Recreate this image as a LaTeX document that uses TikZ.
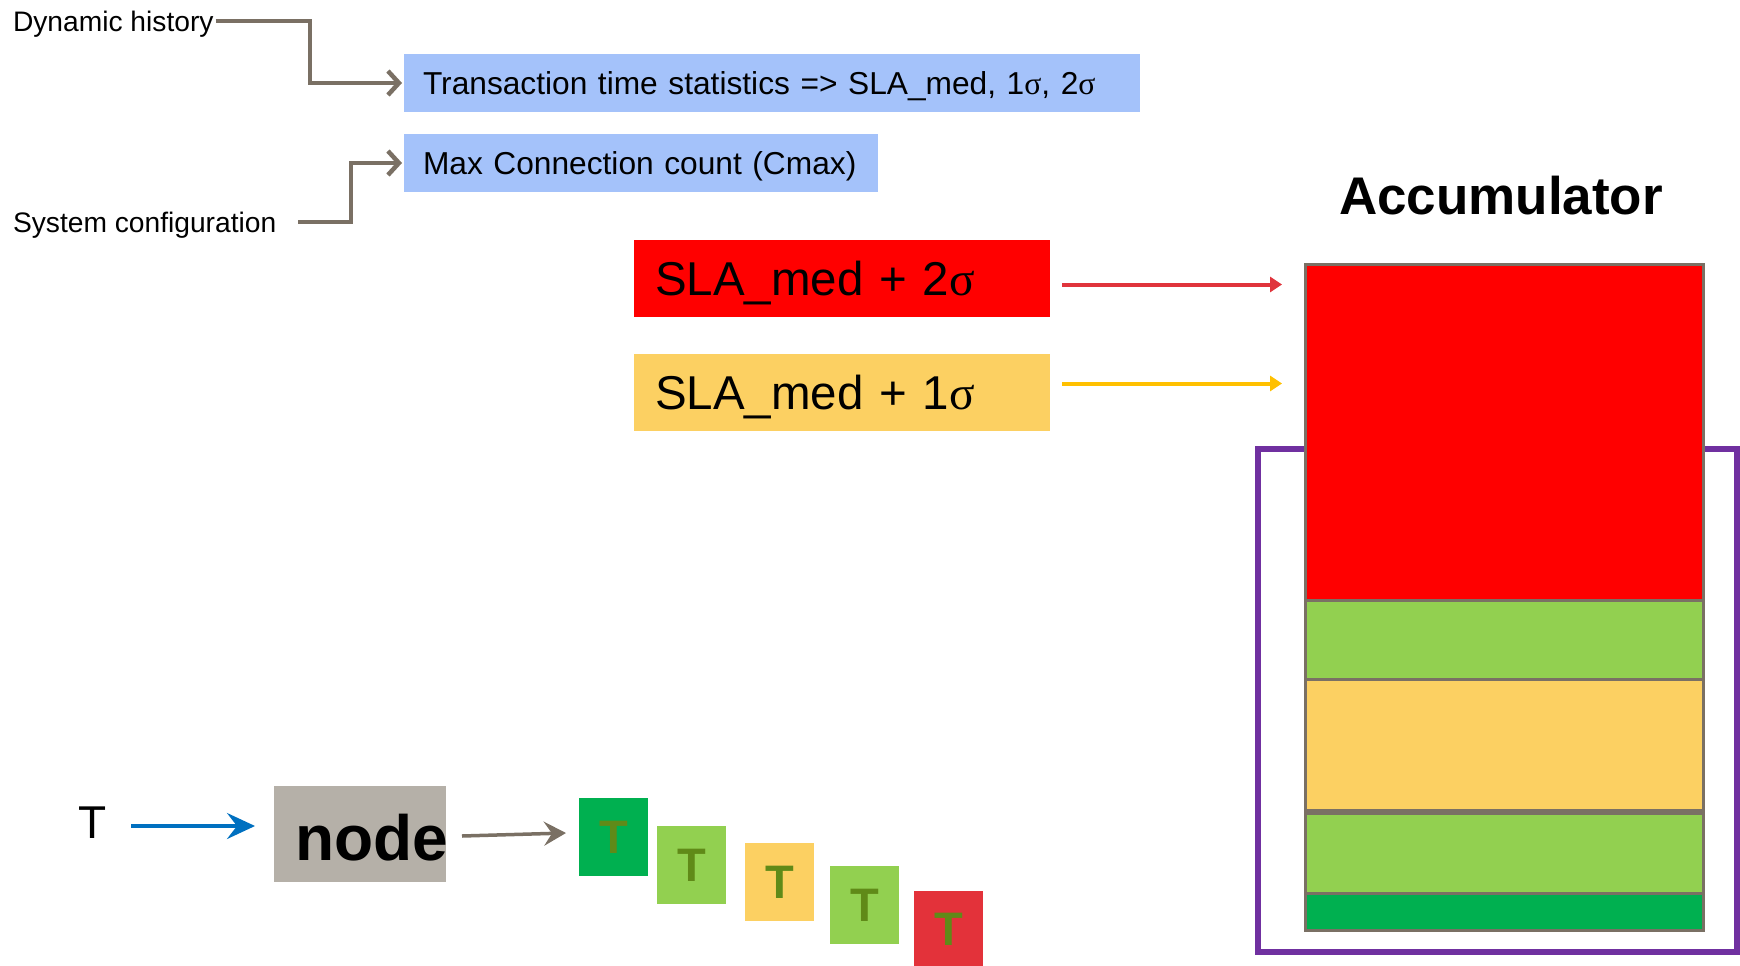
\documentclass[tikz,border=0pt]{standalone}
\usepackage{fontspec}
\setmainfont{Liberation Sans}
\newfontfamily\greekserif{Liberation Serif}
\usetikzlibrary{arrows.meta}

\definecolor{infoblue}{RGB}{164,194,250}
\definecolor{connector}{RGB}{122,112,100}
\definecolor{slared}{RGB}{255,0,0}
\definecolor{slayellow}{RGB}{252,208,98}
\definecolor{arrowred}{RGB}{224,52,60}
\definecolor{arrowyellow}{RGB}{255,192,0}
\definecolor{lightgreen}{RGB}{146,208,80}
\definecolor{darkgreen}{RGB}{0,176,80}
\definecolor{tred}{RGB}{227,50,58}
\definecolor{tolive}{RGB}{96,138,24}
\definecolor{nodegray}{RGB}{181,176,168}
\definecolor{flowblue}{RGB}{0,112,192}
\definecolor{framepurple}{RGB}{112,48,160}
\definecolor{stackedge}{RGB}{122,112,100}

\newcommand{\sig}{{\greekserif σ}}

\begin{document}
\begin{tikzpicture}[x=1pt,y=-1pt,
  every node/.style={outer sep=0pt},
  % font size (#1) and its cap height (#2), so that capitals sit centred
  fs/.style 2 args={font=\fontsize{#1}{#1}\selectfont, text height=#2pt, text depth=0pt},
  fsb/.style 2 args={font=\fontsize{#1}{#1}\selectfont\bfseries, text height=#2pt, text depth=0pt},
  plain/.style={inner sep=0pt},
  infobox/.style={fill=infoblue, anchor=north west, inner xsep=19pt, inner ysep=0pt,
    minimum height=58pt, align=left, fs={31.7}{22.7}},
  slabox/.style={anchor=north west, inner xsep=21pt, inner ysep=0pt,
    text width=374pt, minimum height=77pt, align=left, fs={47.5}{34}},
  conn/.style={draw=connector, line width=4.5pt,
    -{Straight Barb[length=11pt,width=24pt]}, shorten >=2pt},
  levelarrow/.style={line width=4pt, -{Triangle[length=12pt,width=15pt]}, shorten >=23pt},
  stackbox/.style={draw=stackedge, line width=3pt, anchor=north west, inner sep=0pt,
    minimum width=398pt},
  tbox/.style={anchor=north west, inner sep=0pt, minimum width=69pt, minimum height=78pt,
    text=tolive, fsb={47}{33.7}}]

\useasboundingbox (0,0) rectangle (1740,966);

% inputs to the statistics
\node[plain, fs={28.2}{20.2}, anchor=west] (dh) at (13,21) {Dynamic history};
\node[plain, fs={28.2}{20.2}, anchor=west] (sc) at (13,222) {System configuration};
\node[infobox, text width=698pt] (tts) at (404,54)
  {Transaction time statistics => SLA\_med, 1\sig, 2\sig};
\node[infobox, text width=436pt] (mcc) at (404,134) {Max Connection count (Cmax)};
\draw[conn] ([xshift=2pt]dh.east) -| ([xshift=-94pt]tts.west) -- (tts.west);
\draw[conn] ([xshift=22pt]sc.east) -| ([xshift=-53pt]mcc.west) -- (mcc.west);

% thresholds
\node[slabox, fill=slared] (sla2) at (634,240) {SLA\_med + 2\sig};
\node[slabox, fill=slayellow] (sla1) at (634,354) {SLA\_med + 1\sig};

% accumulator
\node[plain, fsb={53}{37.9}] (acctitle) at (1501,196) {Accumulator};
\node[draw=framepurple, line width=5.5pt, anchor=north west, inner sep=0pt,
  minimum width=479pt, minimum height=503pt] (frame) at (1258,449) {};
\node[stackbox, fill=slared, minimum height=336pt] (accred) at (1305,264) {};
\node[stackbox, fill=lightgreen, minimum height=79pt] (accg1) at (1305,600) {};
\node[stackbox, fill=slayellow, minimum height=131pt] (accy) at (1305,679) {};
\node[stackbox, fill=lightgreen, minimum height=80pt] (accg2) at (1305,813) {};
\node[stackbox, fill=darkgreen, minimum height=37pt] (accdg) at (1305,893) {};

\coordinate (r0) at ([shift={(12,6)}]sla2.east);
\coordinate (y0) at ([shift={(12,-9)}]sla1.east);
\draw[levelarrow, arrowred] (r0) -- (r0 -| accred.west);
\draw[levelarrow, arrowyellow] (y0) -- (y0 -| accred.west);

% transaction flow
\node[plain, fs={46}{32.9}, anchor=west] (tin) at (78,822) {T};
\node[fill=nodegray, anchor=north west, inner sep=0pt, minimum width=172pt,
  minimum height=96pt] (nd) at (274,786) {};
\node[font=\fontsize{64}{64}\selectfont\bfseries, anchor=base west, inner sep=0pt]
  (ndtext) at ([shift={(21,26)}]nd.west) {node};

\node[tbox, fill=darkgreen] (t1) at (579,798) {T};
\node[tbox, fill=lightgreen] (t2) at (657,826) {T};
\node[tbox, fill=slayellow] (t3) at (745,843) {T};
\node[tbox, fill=lightgreen] (t4) at (830,866) {T};
\node[tbox, fill=tred, minimum height=75pt] (t5) at (914,891) {T};

\coordinate (b0) at ([shift={(25,4)}]tin.east);
\draw[flowblue, line width=3.5pt, -{Stealth[length=28pt,width=26pt,inset=10pt]},
  shorten >=19pt] (b0) -- (b0 -| nd.west);
\draw[connector, line width=3.5pt, -{Stealth[length=22pt,width=24pt,inset=8pt]}]
  ([shift={(16,2)}]nd.east) -- ([shift={(-13,-4)}]t1.west);

\end{tikzpicture}
\end{document}
